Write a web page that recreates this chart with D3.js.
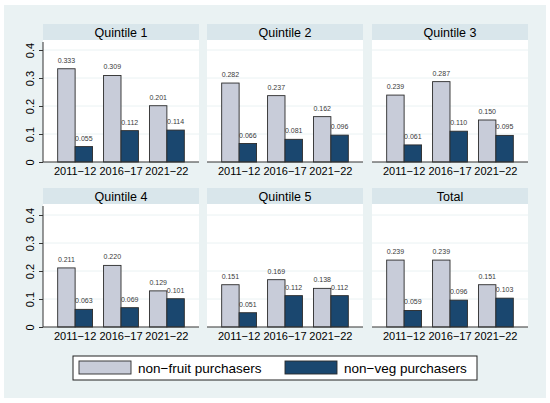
<!DOCTYPE html>
<html>
<head>
<meta charset="utf-8">
<script src="https://cdn.jsdelivr.net/npm/d3@7"></script>
<style>
  body { margin: 0; background: #fff; }
  svg { display: block; font-family: "Liberation Sans", Arial, sans-serif; }
</style>
</head>
<body>
<svg id="chart" width="550" height="403"></svg>
<script>
// panel titles, in reading order
const panels = ["Quintile 1", "Quintile 2", "Quintile 3", "Quintile 4", "Quintile 5", "Total"];
// survey rounds on the x axis
const years = ["2011\u221212", "2016\u221217", "2021\u221222"];
const seriesNames = ["non\u2212fruit purchasers", "non\u2212veg purchasers"];
// share of non-fruit purchasers per panel / year
const fruit = [
  [0.333, 0.309, 0.201],
  [0.282, 0.237, 0.162],
  [0.239, 0.287, 0.150],
  [0.211, 0.220, 0.129],
  [0.151, 0.169, 0.138],
  [0.239, 0.239, 0.151]
];
// share of non-veg purchasers per panel / year
const veg = [
  [0.055, 0.112, 0.114],
  [0.066, 0.081, 0.096],
  [0.061, 0.110, 0.095],
  [0.063, 0.069, 0.101],
  [0.051, 0.112, 0.112],
  [0.059, 0.096, 0.103]
];
const yTicks = [0, 0.1, 0.2, 0.3, 0.4];

const colors = ["#c8ccd9", "#1a476f"];
const bg = "#eaf2f3";
const stripFill = "#d9e6eb";

const svg = d3.select("#chart");

//outer graph region (thin white margin round it)
svg.append("rect")
  .attr("x", 4).attr("y", 5)
  .attr("width", 542).attr("height", 393)
  .attr("fill", bg);

//panel geometry
const colX = [43, 207, 372];
const panelW = 156;
const stripTop = [24, 188];
const stripH = 16;
const axisY = [162, 327];

//scales shared by every panel (only the offset changes)
const xGroup = d3.scaleBand()
  .domain(years)
  .range([0, panelW])
  .paddingInner(0.24)
  .paddingOuter(0.32);

const xSeries = d3.scaleBand()
  .domain([0, 1])
  .range([0, xGroup.bandwidth()])
  .padding(0);

panels.forEach((name, p) => {
  const col = p % 3;
  const row = Math.floor(p / 3);
  const x0 = colX[col];
  const top = stripTop[row];
  const plotTop = top + stripH;

  const y = d3.scaleLinear()
    .domain([0, 0.4])
    .range([axisY[row], axisY[row] - 112]);

  const g = svg.append("g").attr("transform", `translate(${x0},0)`);

  //white plot region
  g.append("rect")
    .attr("x", 0).attr("y", plotTop)
    .attr("width", panelW).attr("height", axisY[row] - plotTop)
    .attr("fill", "#fff");

  //title strip
  g.append("rect")
    .attr("x", 0).attr("y", top)
    .attr("width", panelW).attr("height", stripH)
    .attr("fill", stripFill);
  g.append("text")
    .attr("x", panelW / 2).attr("y", top + 12.5)
    .attr("text-anchor", "middle")
    .style("font-size", "12.5px")
    .style("fill", "#000")
    .text(name);

  //gridlines
  g.selectAll(".grid")
    .data(yTicks.filter(d => d > 0))
    .join("line")
    .attr("class", "grid")
    .attr("x1", 0).attr("x2", panelW)
    .attr("y1", d => y(d)).attr("y2", d => y(d))
    .attr("stroke", bg)
    .attr("stroke-width", 1);

  //bars
  const groups = g.selectAll(".grp")
    .data(years)
    .join("g")
    .attr("class", "grp")
    .attr("transform", d => `translate(${xGroup(d)},0)`);

  groups.each(function (yr, i) {
    const vals = [fruit[p][i], veg[p][i]];
    const gg = d3.select(this);
    gg.selectAll("rect")
      .data(vals)
      .join("rect")
      .attr("x", (d, k) => xSeries(k))
      .attr("y", d => y(d))
      .attr("width", xSeries.bandwidth())
      .attr("height", d => y(0) - y(d))
      .attr("fill", (d, k) => colors[k])
      .attr("stroke", "#2b2b2b")
      .attr("stroke-width", 0.9);
    gg.selectAll("text")
      .data(vals)
      .join("text")
      .attr("x", (d, k) => xSeries(k) + xSeries.bandwidth() / 2)
      .attr("y", d => y(d) - 6)
      .attr("text-anchor", "middle")
      .style("font-size", "7px")
      .style("fill", "#3a3a3a")
      .text(d => d3.format(".3f")(d));
  });

  //x axis: baseline plus category labels
  const xaxis = d3.axisBottom(xGroup).tickSize(0).tickPadding(5);
  const ax = g.append("g")
    .attr("transform", `translate(0,${axisY[row]})`)
    .call(xaxis);
  ax.select(".domain").attr("stroke", "#333").attr("d", `M0,0H${panelW}`);
  ax.selectAll("text")
    .style("font-size", "11px")
    .style("font-family", "Liberation Sans, Arial, sans-serif")
    .attr("fill", "#000");

  //y axis only on the first column
  if (col === 0) {
    const yaxis = d3.axisLeft(y)
      .tickValues(yTicks)
      .tickSize(4)
      .tickFormat(d => d === 0 ? "0" : d3.format(".1f")(d));
    const ay = g.append("g").call(yaxis);
    ay.select(".domain").attr("stroke", "#333").attr("d", `M0,${axisY[row]}V${plotTop + 2}`);
    ay.selectAll(".tick line").attr("stroke", "#333");
    ay.selectAll("text")
      .attr("transform", "rotate(-90)")
      .attr("x", 0)
      .attr("y", -9.5)
      .attr("dy", 0)
      .attr("text-anchor", "middle")
      .style("font-size", "11px")
      .style("font-family", "Liberation Sans, Arial, sans-serif")
      .attr("fill", "#000");
  }
});

//legend
const legend = svg.append("g");
legend.append("rect")
  .attr("x", 73).attr("y", 356)
  .attr("width", 404).attr("height", 24)
  .attr("fill", "#fff")
  .attr("stroke", "#222")
  .attr("stroke-width", 1);

const legX = [79, 285];
legend.selectAll(".key")
  .data(seriesNames)
  .join("rect")
  .attr("class", "key")
  .attr("x", (d, i) => legX[i]).attr("y", 361)
  .attr("width", 52).attr("height", 13)
  .attr("fill", (d, i) => colors[i])
  .attr("stroke", "#2b2b2b")
  .attr("stroke-width", 0.9);

legend.selectAll(".lab")
  .data(seriesNames)
  .join("text")
  .attr("class", "lab")
  .attr("x", (d, i) => legX[i] + 59)
  .attr("y", 373)
  .style("font-size", "13.5px")
  .style("fill", "#000")
  .text(d => d);
</script>
</body>
</html>
